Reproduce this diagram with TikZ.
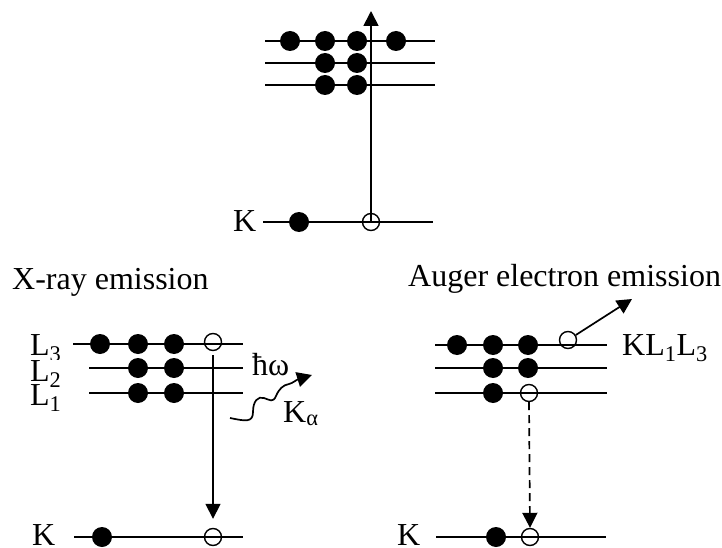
\documentclass[tikz,border=0pt]{standalone}
\usepackage{fontspec}
\setmainfont{Liberation Serif}
\usetikzlibrary{arrows.meta}
\begin{document}
\begin{tikzpicture}[x=1pt,y=-1pt,
  lvl/.style={line width=1.7pt},
  el/.style={circle,fill=black,inner sep=0pt,minimum size=20pt},
  hole/.style={circle,draw=black,line width=1.4pt,inner sep=0pt,minimum size=17pt},
  lbl/.style={font=\fontsize{32}{32}\selectfont,inner sep=0pt,anchor=base west},
  arr/.style={line width=1.7pt,-{Triangle[length=15pt,width=15pt]}}]
\useasboundingbox (0,0) rectangle (722,548);

% ---------- top panel ----------
\draw[lvl] (265,41) -- (435,41);
\draw[lvl] (265,63) -- (435,63);
\draw[lvl] (265,85) -- (435,85);
\draw[lvl] (263,222) -- (433,222);
\node[el] (t31) at (290,41) {};
\node[el] (t32) at (325,41) {};
\node[el] (t33) at (357,41) {};
\node[el] (t34) at (396,41) {};
\node[el] (t21) at (325,63) {};
\node[el] (t22) at (357,63) {};
\node[el] (t11) at (325,85) {};
\node[el] (t12) at (357,85) {};
\node[el] (tK) at (299,222) {};
\node[hole] (tKh) at (371,222) {};
\node[lbl] (tKl) at (233,231) {K};
\coordinate (tup) at (371,11);
\draw[arr] (tKh.center) -- (tup);

% ---------- X-ray emission ----------
\node[lbl] (xt) at (12,289) {X-ray emission};
\draw[lvl] (73,344) -- (243,344);
\draw[lvl] (89,368) -- (243,368);
\draw[lvl] (89,393) -- (243,393);
\draw[lvl] (74,537) -- (243,537);
\node[el] (x31) at (100,344) {};
\node[el] (x32) at (138,344) {};
\node[el] (x33) at (174,344) {};
\node[hole] (x3h) at (213,342) {};
\node[el] (x21) at (138,368) {};
\node[el] (x22) at (174,368) {};
\node[el] (x11) at (138,393) {};
\node[el] (x12) at (174,393) {};
\node[el] (xK) at (102,537) {};
\node[hole] (xKh) at (213,537) {};
\node[lbl] (xL3) at (30,355) {L\textsubscript{3}};
\node[lbl,fill=white] (xL2) at (30,381) {L\textsubscript{2}};
\node[lbl] (xL1) at (30,405) {L\textsubscript{1}};
\node[lbl] (xKl) at (32,545) {K};
\draw[arr] ([yshift=-4pt]x3h.south) -- ([yshift=9pt]xKh.north);
\node[lbl] (hw) at (252,375) {ħω};
\node[lbl] (ka) at (283,422) {K\textsubscript{α}};
\coordinate (wv0) at (230,418);
\coordinate (wv1) at (312,375);
\draw[arr] (wv0) .. controls (245,421) and (253,423) .. (253,412)
  .. controls (253,401) and (258,396) .. (264,398)
  .. controls (270,400) and (273,403) .. (276,396)
  .. controls (279,389) and (283,385) .. (289,384)
  .. controls (293,383) and (296,380) .. (wv1);

% ---------- Auger electron emission ----------
\node[lbl] (at) at (408,286) {Auger electron emission};
\draw[lvl] (435,345) -- (607,345);
\draw[lvl] (435,368) -- (607,368);
\draw[lvl] (435,393) -- (607,393);
\draw[lvl] (436,537) -- (606,537);
\node[el] (a31) at (457,345) {};
\node[el] (a32) at (493,345) {};
\node[el] (a33) at (528,345) {};
\node[hole] (a3h) at (568,340) {};
\node[el] (a21) at (493,368) {};
\node[el] (a22) at (528,368) {};
\node[el] (a11) at (493,393) {};
\node[hole] (a1h) at (529,393) {};
\node[el] (aK) at (496,537) {};
\node[hole] (aKh) at (530,537) {};
\node[lbl] (akl) at (622,355) {KL\textsubscript{1}L\textsubscript{3}};
\node[lbl] (aKl) at (397,545) {K};
\coordinate (aout) at (632,299);
\draw[arr] (a3h) -- (aout);
\draw[arr,dash pattern=on 8pt off 5pt] (a1h.south) -- (aKh.north);
\end{tikzpicture}
\end{document}
